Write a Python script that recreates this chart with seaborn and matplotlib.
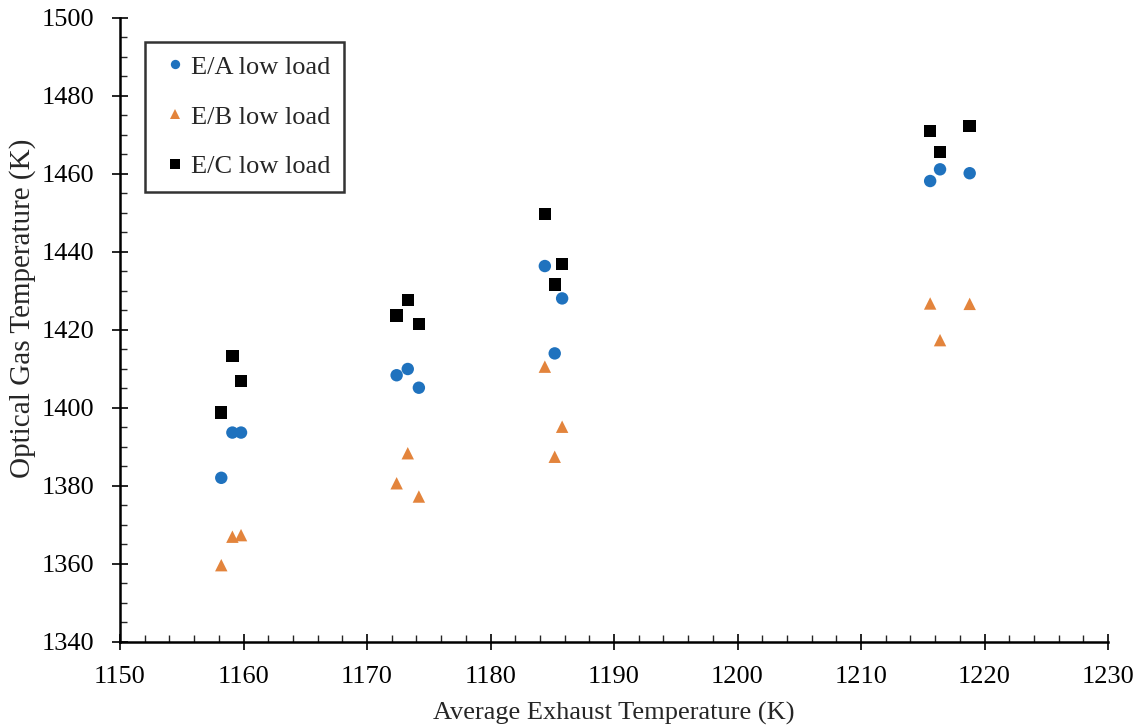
import matplotlib
matplotlib.use("Agg")
import matplotlib.pyplot as plt
from matplotlib.ticker import MultipleLocator
import seaborn as sns
import pandas as pd

exhaust_temp = [1158.2, 1159.1, 1159.8, 1172.4, 1173.3, 1174.2,
                1184.4, 1185.2, 1185.8, 1215.6, 1216.4, 1218.8]
ea_low = [1382.1, 1393.7, 1393.7, 1408.4, 1410.0, 1405.2,
          1436.4, 1414.0, 1428.1, 1458.2, 1461.2, 1460.2]
eb_low = [1359.7, 1367.0, 1367.4, 1380.7, 1388.4, 1377.3,
          1410.6, 1387.5, 1395.2, 1426.8, 1417.4, 1426.7]
ec_low = [1398.9, 1413.3, 1406.9, 1423.7, 1427.7, 1421.5,
          1449.7, 1431.7, 1436.9, 1471.0, 1465.7, 1472.3]
series_names = ["E/A low load", "E/B low load", "E/C low load"]

df = pd.DataFrame({
    "x": exhaust_temp * 3,
    "y": ea_low + eb_low + ec_low,
    "series": [series_names[0]] * len(exhaust_temp)
              + [series_names[1]] * len(exhaust_temp)
              + [series_names[2]] * len(exhaust_temp),
})

sns.set_style("white")
plt.rcParams["font.family"] = ["Liberation Serif", "DejaVu Serif"]

fig = plt.figure(figsize=(11.43, 7.28), dpi=100)
ax = fig.add_axes([120 / 1143, 86 / 728, 988 / 1143, 624 / 728])

palette = {series_names[0]: "#1F72BE", series_names[1]: "#E3843C", series_names[2]: "#000000"}
markers = {series_names[0]: "o", series_names[1]: "^", series_names[2]: "s"}
sns.scatterplot(data=df, x="x", y="y", hue="series", style="series",
                palette=palette, markers=markers, s=80, edgecolor="none",
                linewidth=0, ax=ax)

ax.set_xlim(1150, 1230)
ax.set_ylim(1340, 1500)
ax.xaxis.set_major_locator(MultipleLocator(10))
ax.xaxis.set_minor_locator(MultipleLocator(2))
ax.yaxis.set_major_locator(MultipleLocator(20))
ax.yaxis.set_minor_locator(MultipleLocator(5))
ax.tick_params(axis="both", which="major", direction="inout", length=12, width=1.2,
               labelsize=19, colors="black", bottom=True, left=True)
ax.tick_params(axis="x", which="major", pad=11)
ax.tick_params(axis="y", which="major", pad=12.5)
ax.tick_params(axis="both", which="minor", direction="in", length=5, width=1,
               bottom=True, left=True)
for side in ["top", "right"]:
    ax.spines[side].set_visible(False)
for side in ["left", "bottom"]:
    ax.spines[side].set_color("black")
    ax.spines[side].set_linewidth(1.8)

ax.set_xlabel("Average Exhaust Temperature (K)", fontsize=19, labelpad=10)
ax.set_ylabel("Optical Gas Temperature (K)", fontsize=21)
ax.yaxis.set_label_coords(-0.085, 0.535)

leg = ax.legend(title=None, loc="upper left", bbox_to_anchor=(0.0253, 0.9615),
                borderaxespad=0, fontsize=19, frameon=True, fancybox=False,
                edgecolor="black", handletextpad=0.0, borderpad=0.5,
                labelspacing=1.0, markerscale=0.75, handlelength=1.25)
leg.get_frame().set_linewidth(1.8)

fig.savefig("out.png", dpi=100)
